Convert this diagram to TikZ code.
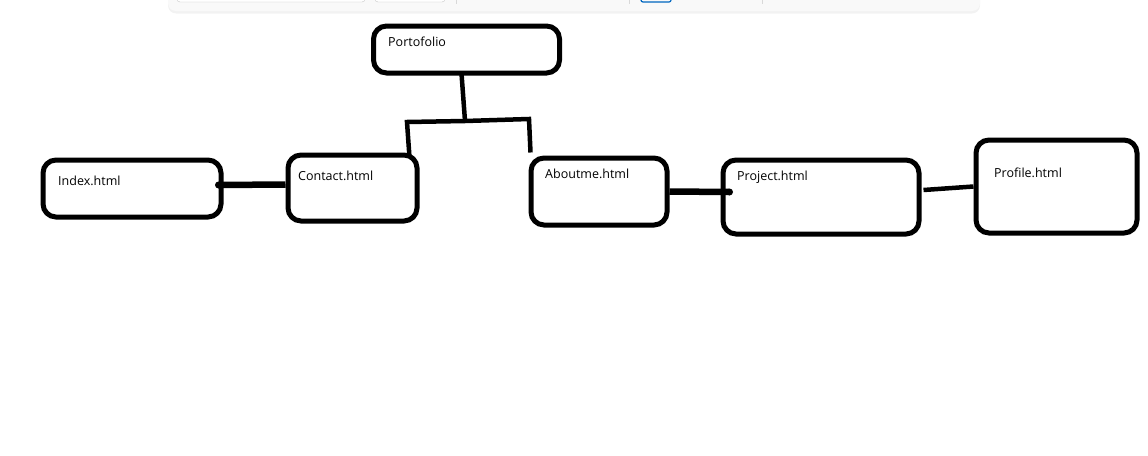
\documentclass[tikz,border=0pt]{standalone}
\usepackage{fontspec}
\setmainfont{Open Sans}
\usetikzlibrary{positioning,shadows}
\definecolor{barblue}{HTML}{0067C0}

\begin{document}
\begin{tikzpicture}[x=1pt,y=-1pt,
  pagebox/.style={draw=black, line width=5pt, rounded corners=13pt, inner sep=0pt},
  pagename/.style={anchor=west, inner sep=0pt, font=\fontsize{12.5}{14}\selectfont},
  link/.style={black, line width=4.5pt},
  thicklink/.style={black, line width=6.5pt}]
\useasboundingbox (0,0) rectangle (1148,455);

% toolbar of the window, cut at the top
\fill [black!2.5, rounded corners=8pt, drop shadow={opacity=0.10,shadow xshift=0pt,shadow yshift=-2.5pt}] (168,-20) rectangle (980,11);
\draw [black!22, fill=white, rounded corners=3pt] (177,-10) rectangle (365,2);
\draw [black!22, fill=white, rounded corners=3pt] (375,-10) rectangle (445,2);
\draw [black!15] (456,-5) -- (456,4);
\draw [black!15] (629,-5) -- (629,4);
\draw [black!15] (762,-5) -- (762,4);
\draw [barblue, line width=1.2pt, rounded corners=2pt] (641,-10) rectangle (671,2);

% pages
\node [pagebox, minimum width=186pt, minimum height=47pt] (port) at (466.5,49.5) {};
\node [pagebox, minimum width=178pt, minimum height=57pt] (index) at (132,188.5) {};
\node [pagebox, minimum width=129pt, minimum height=66pt] (contact) at (352.5,188) {};
\node [pagebox, minimum width=136pt, minimum height=67pt] (about) at (599,191.5) {};
\node [pagebox, minimum width=196pt, minimum height=74pt] (project) at (821,197) {};
\node [pagebox, minimum width=161pt, minimum height=93pt] (profile) at (1056.5,186.5) {};

\node [pagename] (portname) at (388,42) {Portofolio};
\node [pagename] (indexname) at (58,181) {Index.html};
\node [pagename] (contactname) at (298,176) {Contact.html};
\node [pagename] (aboutname) at (545,174) {Aboutme.html};
\node [pagename] (projectname) at (737,177) {Project.html};
\node [pagename] (profilename) at (994,173) {Profile.html};

% links
\coordinate (hub) at (465,121);
\coordinate (legl) at (407,122);
\coordinate (legr) at (529,119);
\draw [link] ([xshift=-5pt,yshift=2pt]port.south) -- (hub);
\draw [link] ([xshift=-10pt,yshift=-5pt]contact.north east) -- (legl) -- (hub) -- (legr) -- ([xshift=2pt,yshift=3pt]about.north west);
\draw [thicklink] ([xshift=-5pt,yshift=3.5pt]index.east) -- ([yshift=3.5pt]contact.west);
\fill [black] ([xshift=-5pt,yshift=3.5pt]index.east) circle (3.5pt);
\draw [thicklink] (about.east) -- ([xshift=9pt,yshift=5pt]project.west);
\fill [black] ([xshift=9pt,yshift=5pt]project.west) circle (3.5pt);
\draw [link] ([xshift=2pt,yshift=7pt]project.east) -- (profile.west);
\end{tikzpicture}
\end{document}
